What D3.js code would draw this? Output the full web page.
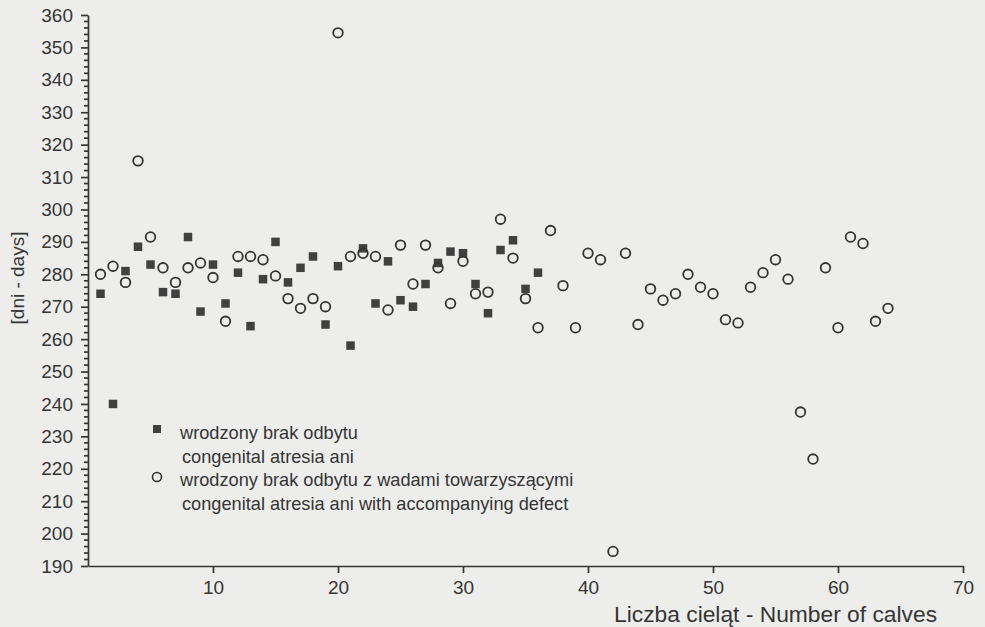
<!DOCTYPE html>
<html>
<head>
<meta charset="utf-8">
<script src="https://cdn.jsdelivr.net/npm/d3@7"></script>
<style>
html, body { margin: 0; padding: 0; background: #ededeb; }
svg { display: block; font-family: "Liberation Sans", Arial, sans-serif; }
</style>
</head>
<body>
<svg id="chart" width="985" height="627"></svg>
<script>

var xTicks = [10, 20, 30, 40, 50, 60, 70];
var yTicks = [190, 200, 210, 220, 230, 240, 250, 260, 270, 280, 290, 300, 310, 320, 330, 340, 350, 360];

// wrodzony brak odbytu - congenital atresia ani (squares)
var atresiaCalf = [1, 2, 3, 4, 5, 6, 7, 8, 9, 10, 11, 12, 13, 14, 15, 16, 17, 18,
    19, 20, 21, 22, 23, 24, 25, 26, 27, 28, 29, 30, 31, 32, 33, 34, 35, 36];
var atresiaDays = [274, 240, 281, 288.5, 283, 274.5, 274, 291.5, 268.5, 283, 271, 280.5, 264, 278.5, 290, 277.5, 282, 285.5,
    264.5, 282.5, 258, 288, 271, 284, 272, 270, 277, 283.5, 287, 286.5, 277, 268, 287.5, 290.5, 275.5, 280.5];

// z wadami towarzyszacymi - with accompanying defect (circles)
var defectCalf = [1, 2, 3, 4, 5, 6, 7, 8, 9, 10, 11, 12, 13, 14, 15, 16, 17, 18, 19, 20, 21, 22,
    23, 24, 25, 26, 27, 28, 29, 30, 31, 32, 33, 34, 35, 36, 37, 38, 39, 40, 41, 42, 43,
    44, 45, 46, 47, 48, 49, 50, 51, 52, 53, 54, 55, 56, 57, 58, 59, 60, 61, 62, 63, 64];
var defectDays = [280, 282.5, 277.5, 315, 291.5, 282, 277.5, 282, 283.5, 279, 265.5, 285.5, 285.5, 284.5, 279.5, 272.5, 269.5, 272.5, 270, 354.5, 285.5, 286.5,
    285.5, 269, 289, 277, 289, 282, 271, 284, 274, 274.5, 297, 285, 272.5, 263.5, 293.5, 276.5, 263.5, 286.5, 284.5, 194.5, 286.5,
    264.5, 275.5, 272, 274, 280, 276, 274, 266, 265, 276, 280.5, 284.5, 278.5, 237.5, 223, 282, 263.5, 291.5, 289.5, 265.5, 269.5];

var legendLines = [
    "wrodzony brak odbytu",
    "congenital atresia ani",
    "wrodzony brak odbytu z wadami towarzyszącymi",
    "congenital atresia ani with accompanying defect"
];

var ink = "#353535";
var svg = d3.select("#chart");

var x = d3.scaleLinear().domain([0, 70]).range([88, 963]);
var y = d3.scaleLinear().domain([190, 360]).range([566, 15]);

// y axis
var gy = svg.append("g")
    .attr("transform", "translate(88,0)")
    .call(d3.axisLeft(y).tickValues(yTicks).tickSize(7).tickSizeOuter(0).tickPadding(8));

gy.selectAll(".minor")
    .data(y.ticks(85).filter(function(d) { return d % 10 !== 0; }))
    .enter()
    .append("line")
        .attr("class", "minor")
        .attr("x1", 0).attr("x2", -4)
        .attr("y1", function(d) { return y(d); })
        .attr("y2", function(d) { return y(d); });

// x axis
var gx = svg.append("g")
    .attr("transform", "translate(0,566)")
    .call(d3.axisBottom(x).tickValues(xTicks).tickSize(7).tickSizeOuter(0).tickPadding(8));

svg.selectAll(".domain, .tick line, .minor")
    .style("stroke", ink)
    .style("stroke-width", 1.7);
svg.selectAll(".tick text")
    .style("fill", ink)
    .style("font-size", "19px")
    .style("font-family", "'Liberation Sans', Arial, sans-serif");

// axis titles
svg.append("text")
    .attr("transform", "translate(17,278) rotate(-90)")
    .attr("text-anchor", "middle")
    .attr("dy", "0.35em")
    .style("font-size", "19px")
    .style("fill", ink)
    .text("[dni - days]");

svg.append("text")
    .attr("x", 614)
    .attr("y", 622)
    .style("font-size", "22.8px")
    .style("fill", ink)
    .text("Liczba cieląt - Number of calves");

// points
var atresia = atresiaCalf.map(function(c, i) { return { calf: c, days: atresiaDays[i] }; });
var defect = defectCalf.map(function(c, i) { return { calf: c, days: defectDays[i] }; });

svg.selectAll(".sq")
    .data(atresia)
    .enter()
    .append("rect")
        .attr("class", "sq")
        .attr("x", function(d) { return x(d.calf) - 4.25; })
        .attr("y", function(d) { return y(d.days) - 4.25; })
        .attr("width", 8.5)
        .attr("height", 8.5)
        .style("fill", "#404040");

svg.selectAll(".ci")
    .data(defect)
    .enter()
    .append("circle")
        .attr("class", "ci")
        .attr("cx", function(d) { return x(d.calf); })
        .attr("cy", function(d) { return y(d.days); })
        .attr("r", 4.8)
        .style("fill", "none")
        .style("stroke", "#333")
        .style("stroke-width", 1.8);

// legend
var legend = svg.append("g");
legend.append("rect")
    .attr("x", 157 - 4).attr("y", 429 - 4)
    .attr("width", 8).attr("height", 8)
    .style("fill", "#404040");
legend.append("circle")
    .attr("cx", 157).attr("cy", 477)
    .attr("r", 4.5)
    .style("fill", "none")
    .style("stroke", "#333")
    .style("stroke-width", 1.6);

legend.selectAll(".lt")
    .data(legendLines)
    .enter()
    .append("text")
        .attr("class", "lt")
        .attr("x", function(d, i) { return i % 2 === 0 ? 180 : 182; })
        .attr("y", function(d, i) { return 439 + i * 23.5; })
        .style("font-size", "18.2px")
        .style("fill", ink)
        .text(function(d) { return d; });

</script>
</body>
</html>
